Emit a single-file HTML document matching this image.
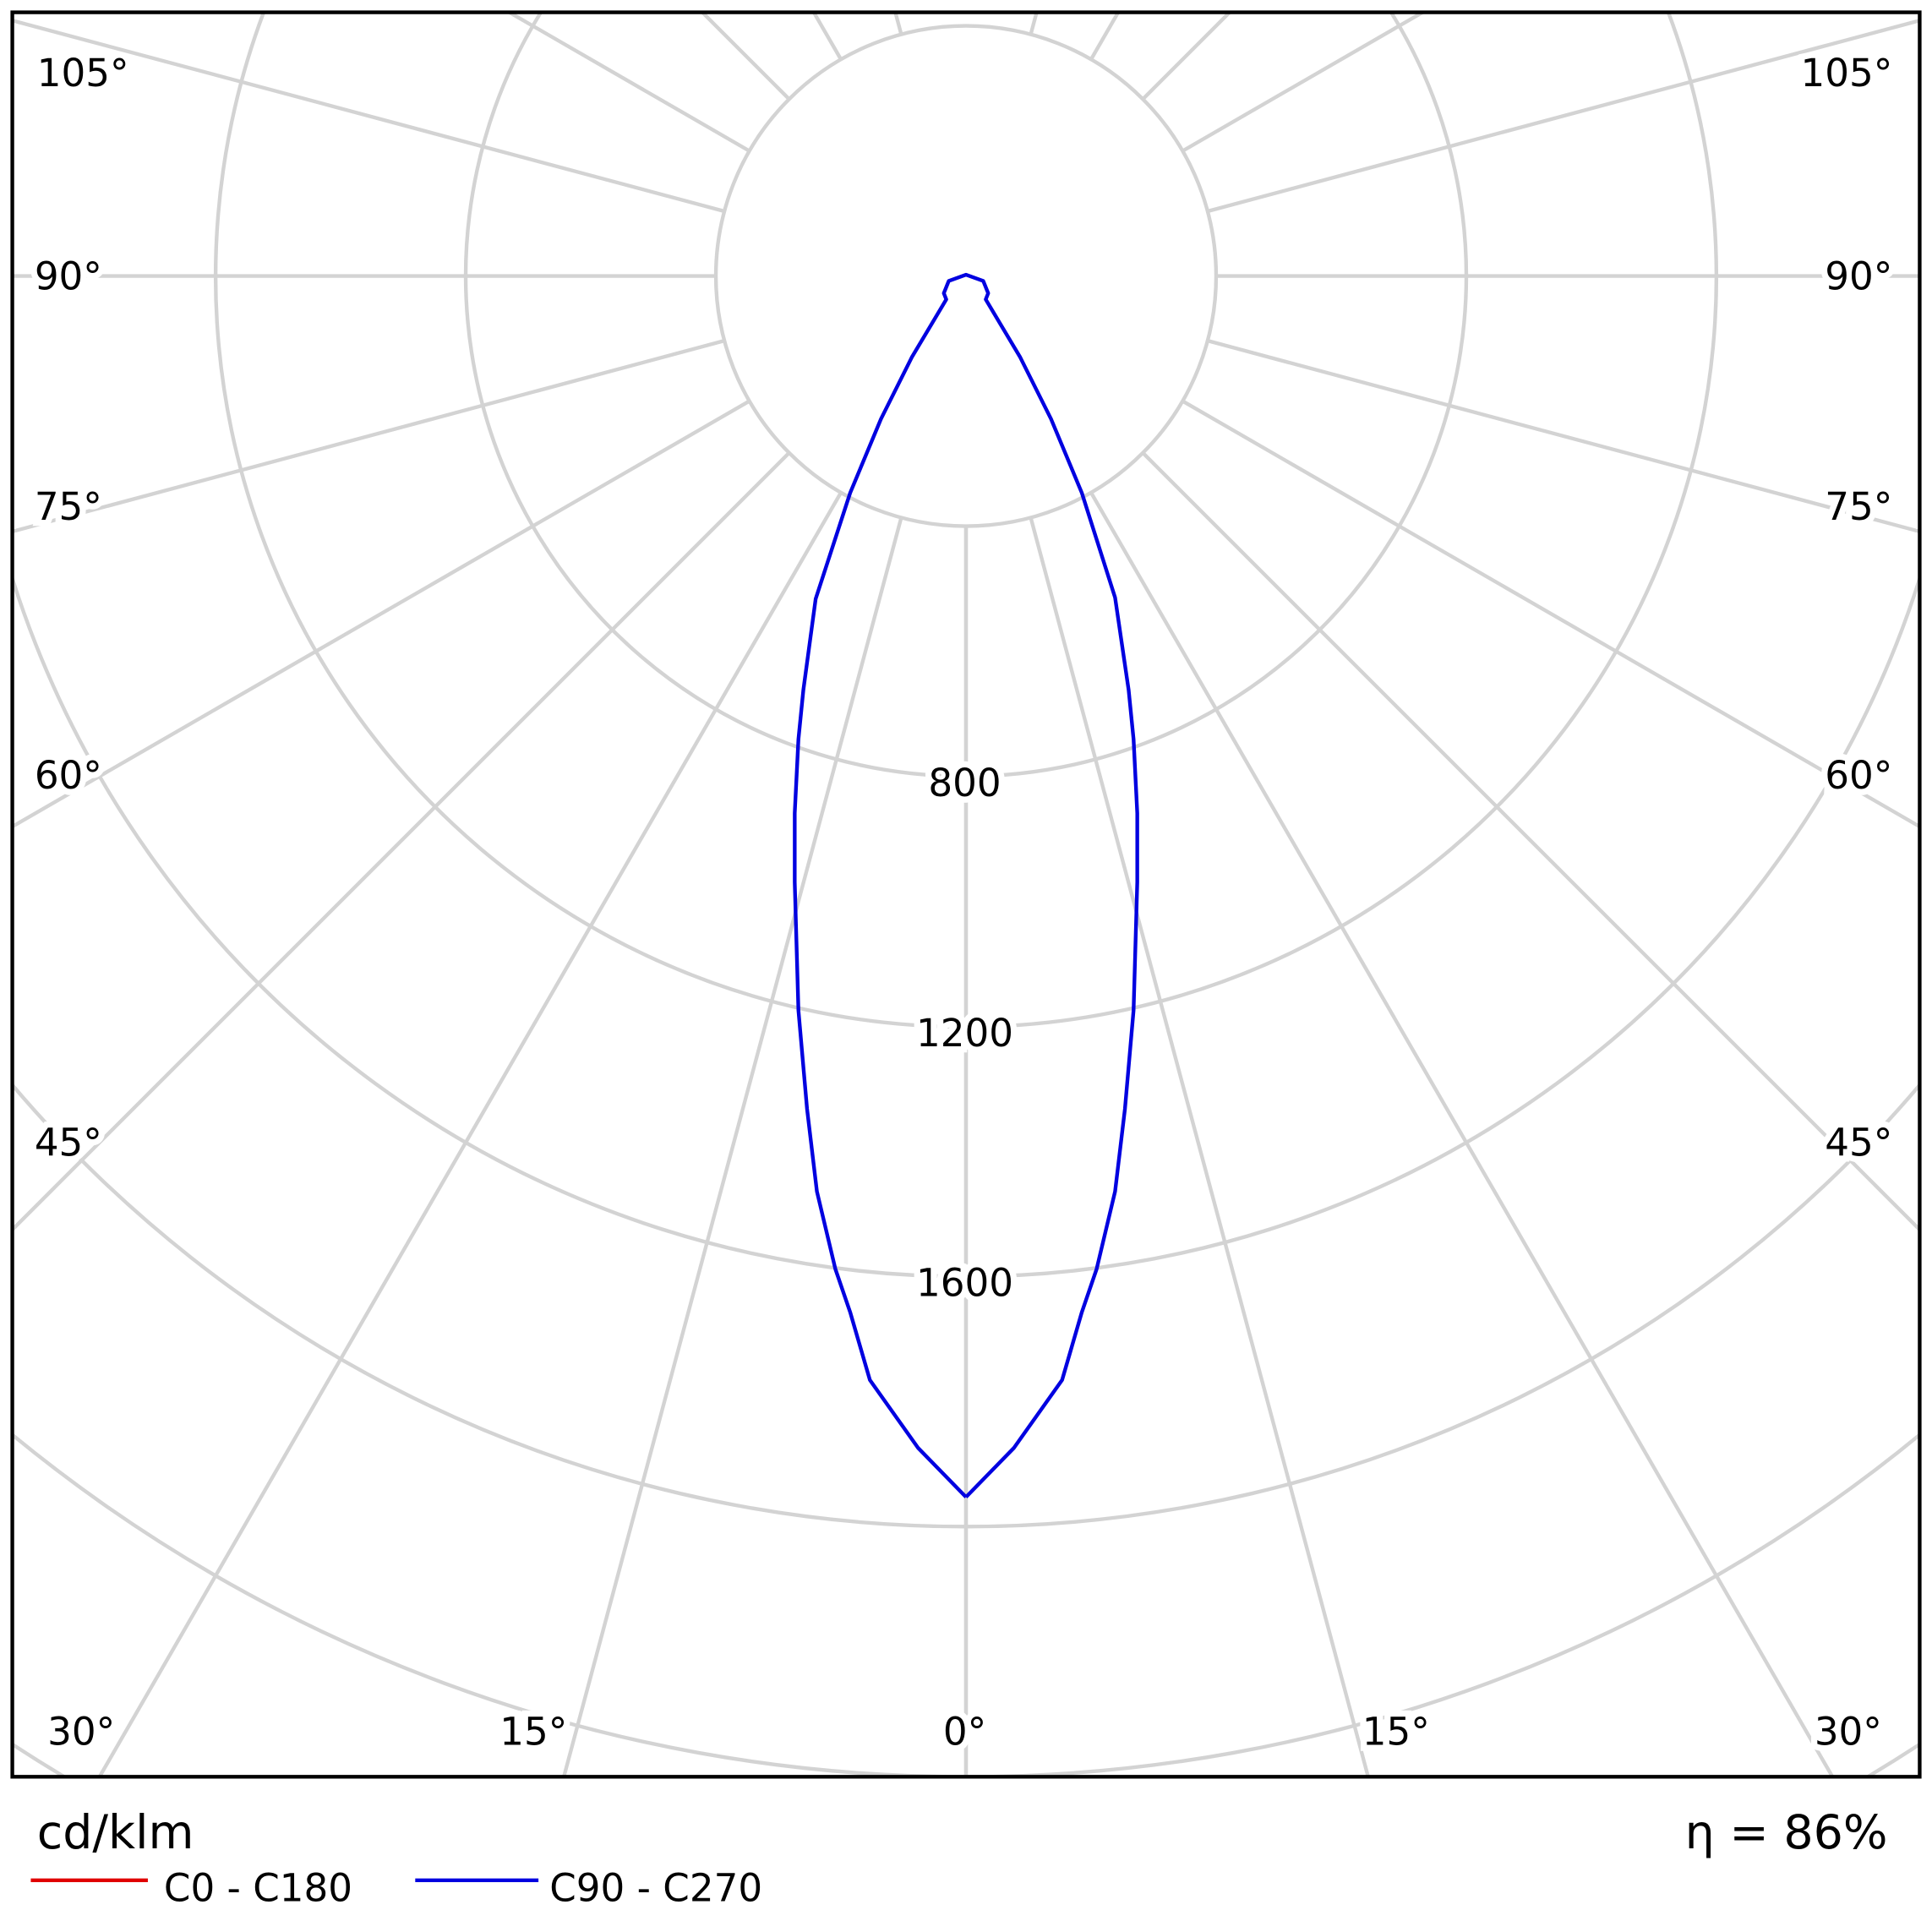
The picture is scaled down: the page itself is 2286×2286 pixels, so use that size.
<!DOCTYPE html>
<html><head><style>html,body{margin:0;padding:0;background:#fff;width:2286px;height:2286px;overflow:hidden}svg{display:block}</style></head>
<body>
<svg width="2286" height="2286" viewBox="0 0 1568 1568" xmlns="http://www.w3.org/2000/svg" font-family="'DejaVu Sans','Liberation Sans',sans-serif">
<rect width="1568" height="1568" fill="#fff"/>
<g stroke="#d3d3d3" stroke-width="3" fill="none">
<circle cx="784" cy="224" r="203"/>
<path d="M1129,10 A406,406 0 1 1 439,10"/>
<path d="M1354,10 A609,609 0 1 1 214,10"/>
<path d="M1558,469.5 A812,812 0 0 1 10,469.5"/>
<path d="M1558,880.6 A1015,1015 0 0 1 10,880.6"/>
<path d="M1558,1164.5 A1218,1218 0 0 1 10,1164.5"/>
<path d="M1558,1415.7 A1421,1421 0 0 1 1516,1442"/>
<path d="M52,1442 A1421,1421 0 0 1 10,1415.7"/>
<g id="rl">
<line x1="784" y1="427" x2="784" y2="1442"/>
<line x1="784" y1="427" x2="784" y2="1485" transform="rotate(15 784 224)"/>
<line x1="784" y1="427" x2="784" y2="1630" transform="rotate(30 784 224)"/>
<line x1="784" y1="427" x2="784" y2="1319" transform="rotate(45 784 224)"/>
<line x1="784" y1="427" x2="784" y2="1118" transform="rotate(60 784 224)"/>
<line x1="784" y1="427" x2="784" y2="1025" transform="rotate(75 784 224)"/>
<line x1="784" y1="427" x2="784" y2="998" transform="rotate(90 784 224)"/>
<line x1="784" y1="427" x2="784" y2="1025" transform="rotate(105 784 224)"/>
<line x1="784" y1="427" x2="784" y2="652" transform="rotate(120 784 224)"/>
<line x1="784" y1="427" x2="784" y2="527" transform="rotate(135 784 224)"/>
<line x1="784" y1="427" x2="784" y2="471" transform="rotate(150 784 224)"/>
<line x1="784" y1="427" x2="784" y2="446" transform="rotate(165 784 224)"/>
</g>
<use href="#rl" transform="translate(1568 0) scale(-1 1)"/>
</g>
<g font-size="31" fill="#000">
<g text-anchor="middle" stroke="#fff" stroke-width="10" paint-order="stroke">
<text x="783" y="646">800</text><text x="783" y="849">1200</text><text x="783" y="1052">1600</text>
<text x="783" y="1416">0°</text><text x="433" y="1416">15°</text><text x="1133" y="1416">15°</text>
<text x="66" y="1416">30°</text><text x="1500" y="1416">30°</text>
</g>
<g stroke="#fff" stroke-width="10" paint-order="stroke">
<text x="30" y="70">105°</text><text x="28" y="235">90°</text><text x="28" y="422">75°</text><text x="28" y="640">60°</text><text x="28" y="938">45°</text>
<text x="1536" y="70" text-anchor="end">105°</text><text x="1536" y="235" text-anchor="end">90°</text><text x="1536" y="422" text-anchor="end">75°</text><text x="1536" y="640" text-anchor="end">60°</text><text x="1536" y="938" text-anchor="end">45°</text>
</g>
</g>
<polyline fill="none" stroke="#0000e0" stroke-width="3" stroke-linejoin="round" points="784,1215 745,1175 706,1120 690,1065 678,1030 663,967 655,900 648,820 645,716 645,660 648,600 652,560 662,486 690,400 715,340 740,290 768,243 766,238 770,228 784,223 798,228 802,238 800,243 828,290 853,340 878,400 905,485 916,560 920,600 923,660 923,716 920,820 913,900 905,967 890,1030 878,1065 862,1120 823,1175 784,1215"/>
<rect x="10" y="10" width="1548" height="1432" fill="none" stroke="#000" stroke-width="3"/>
<text x="30" y="1500" font-size="38">cd/klm</text>
<text x="1532" y="1500" font-size="38" text-anchor="end">η = 86%</text>
<line x1="25" y1="1526" x2="120" y2="1526" stroke="#e00000" stroke-width="3"/>
<text x="133" y="1543" font-size="31">C0 - C180</text>
<line x1="337" y1="1526" x2="437" y2="1526" stroke="#0000e0" stroke-width="3"/>
<text x="446" y="1543" font-size="31">C90 - C270</text>
</svg>
</body></html>
